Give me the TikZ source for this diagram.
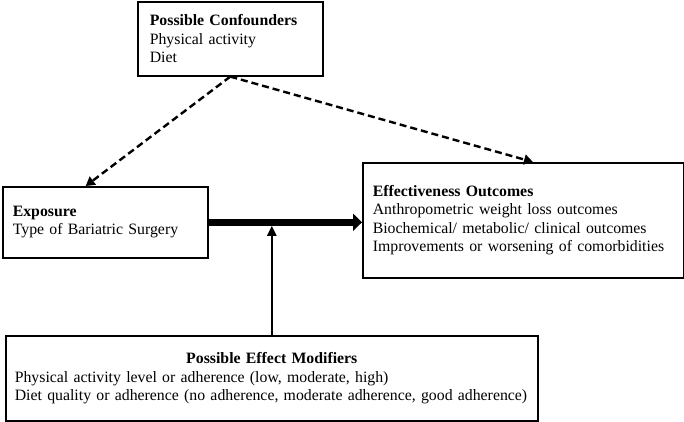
\documentclass[tikz,border=0pt]{standalone}
\usepackage{fontspec}
\setmainfont{Liberation Serif}
\usetikzlibrary{positioning}
\usetikzlibrary{arrows.meta, calc}

\tikzset{
  boxnode/.style={draw=black, line width=1.6pt, rectangle, anchor=north west, align=left,
    inner xsep=10pt, inner ysep=0pt, font=\fontsize{15.8}{18.4}\selectfont},
  dasharrow/.style={line width=2.4pt, dash pattern=on 7pt off 4pt, -{Triangle[length=9pt,width=10pt]}},
}

\begin{document}
\begin{tikzpicture}[x=1pt,y=-1pt]
\useasboundingbox (0,0) rectangle (684,421);

\node[boxnode, inner xsep=12pt, text width=161pt, minimum width=185pt, minimum height=74pt] (conf) at (137,1)
  {\textbf{Possible Confounders}\\Physical activity\\Diet};
\node[boxnode, text width=185pt, minimum width=205pt, minimum height=71pt] (expo) at (2,186)
  {\textbf{Exposure}\\Type of Bariatric Surgery};
\node[boxnode, text width=301pt, minimum width=321pt, minimum height=115pt] (outc) at (362,162)
  {\textbf{Effectiveness Outcomes}\\Anthropometric weight loss outcomes\\Biochemical/ metabolic/ clinical outcomes\\Improvements or worsening of comorbidities};
\node[boxnode, inner xsep=9pt, text width=514pt, minimum width=532pt, minimum height=85pt] (mods) at (5,335)
  {\makebox[\hsize]{\textbf{Possible Effect Modifiers}}\\Physical activity level or adherence (low, moderate, high)\\Diet quality or adherence (no adherence, moderate adherence, good adherence)};

% confounders
\draw[dasharrow] (conf.south) -- ($(expo.north west)!0.405!(expo.north east)$);
\draw[dasharrow] (conf.south) -- ($(outc.north west)!0.53!(outc.north east)$);

% main effect
\draw[line width=7pt, -{Triangle[length=9pt,width=17pt]}] (expo.east) -- coordinate[pos=0.41] (mid) (expo.east -| outc.west);

% modifiers
\draw[line width=2.4pt, -{Triangle[length=10pt,width=9pt]}, shorten >=3.5pt] (mods.north) -- (mods.north |- mid);

\end{tikzpicture}
\end{document}
